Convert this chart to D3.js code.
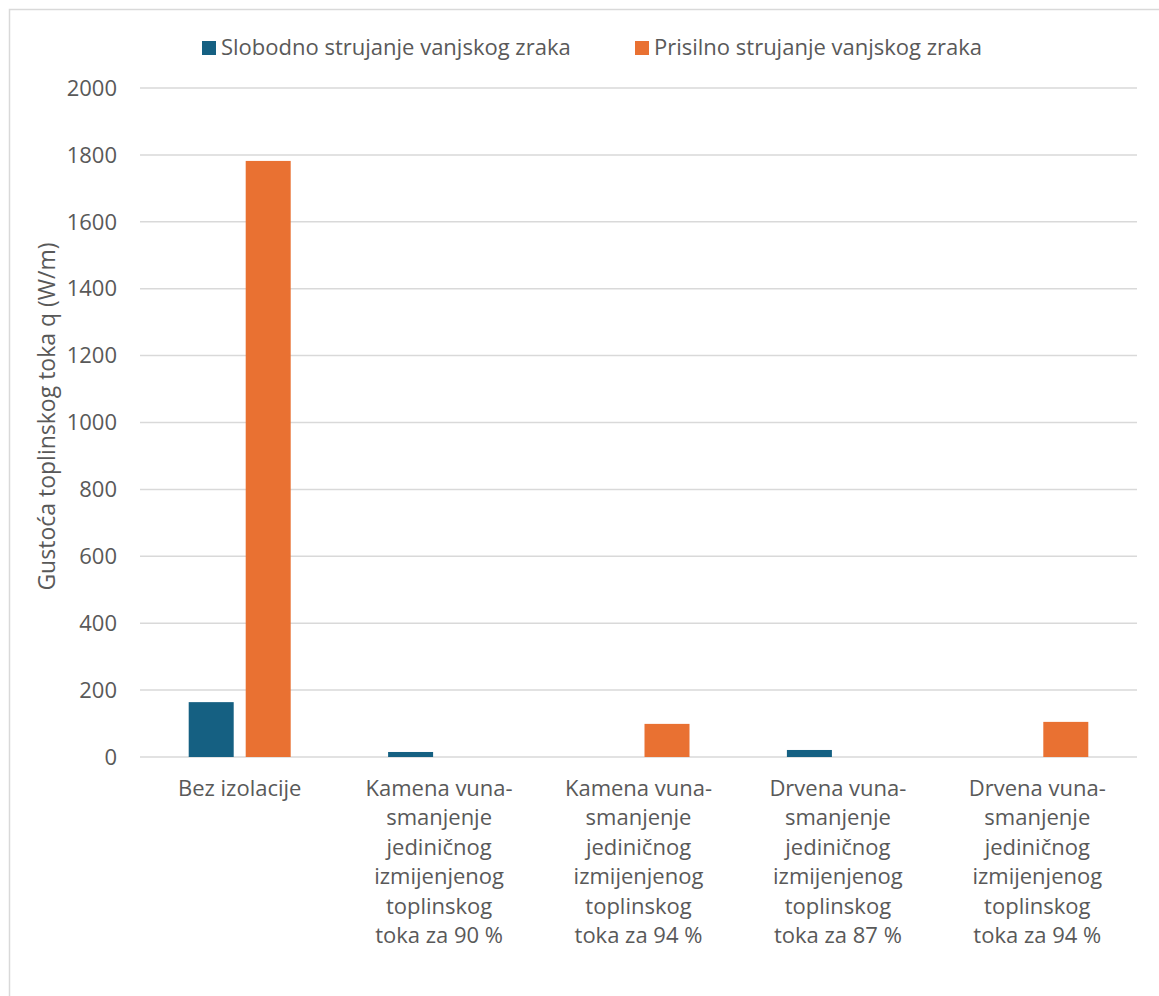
<!DOCTYPE html>
<html>
<head>
<meta charset="utf-8">
<script src="https://cdn.jsdelivr.net/npm/d3@7"></script>
<style>
  body { margin: 0; background: #fff; }
  svg { display: block; }
  text { font-family: "Open Sans", sans-serif; fill: #595959; }
</style>
</head>
<body>
<svg width="1159" height="996"></svg>
<script>
const categories = [
  ["Bez izolacije"],
  ["Kamena vuna-", "smanjenje", "jediničnog", "izmijenjenog", "toplinskog", "toka za 90 %"],
  ["Kamena vuna-", "smanjenje", "jediničnog", "izmijenjenog", "toplinskog", "toka za 94 %"],
  ["Drvena vuna-", "smanjenje", "jediničnog", "izmijenjenog", "toplinskog", "toka za 87 %"],
  ["Drvena vuna-", "smanjenje", "jediničnog", "izmijenjenog", "toplinskog", "toka za 94 %"]
];
const seriesNames = ["Slobodno strujanje vanjskog zraka", "Prisilno strujanje vanjskog zraka"];
const slobodno = [164, 15, 0, 21, 0];
const prisilno = [1782, 0, 99, 0, 105];
const yTicks = [0, 200, 400, 600, 800, 1000, 1200, 1400, 1600, 1800, 2000];
const colors = ["#156082", "#E97132"];

const svg = d3.select("svg");
const plotLeft = 140, plotRight = 1137, plotTop = 88, plotBottom = 757;

// chart frame
svg.append("rect")
  .attr("x", 9.5).attr("y", 9.5)
  .attr("width", 1200).attr("height", 1100)
  .attr("fill", "none").attr("stroke", "#D9D9D9").attr("stroke-width", 1.5);

const x = d3.scaleBand().domain(d3.range(categories.length)).range([plotLeft, plotRight]);
const y = d3.scaleLinear().domain([0, 2000]).range([plotBottom, plotTop]);
const barW = 45, gap = 12;

// gridlines
svg.append("g")
  .selectAll("line")
  .data(yTicks)
  .join("line")
  .attr("x1", plotLeft).attr("x2", plotRight)
  .attr("y1", d => y(d)).attr("y2", d => y(d))
  .attr("stroke", "#D9D9D9").attr("stroke-width", 1.5);

// y tick labels
svg.append("g")
  .selectAll("text")
  .data(yTicks)
  .join("text")
  .attr("x", 117)
  .attr("y", d => y(d))
  .attr("dy", "0.35em")
  .attr("text-anchor", "end")
  .style("font-size", "22px")
  .text(d => d);

// bars
[slobodno, prisilno].forEach((vals, si) => {
  svg.append("g")
    .selectAll("rect")
    .data(vals)
    .join("rect")
    .attr("x", (d, i) => x(i) + x.bandwidth() / 2 + (si === 0 ? -gap / 2 - barW : gap / 2))
    .attr("y", d => y(d))
    .attr("width", barW)
    .attr("height", d => plotBottom - y(d))
    .attr("fill", colors[si]);
});

// category labels
const cat = svg.append("g")
  .selectAll("text")
  .data(categories)
  .join("text")
  .attr("text-anchor", "middle")
  .style("font-size", "22px");
cat.each(function (lines, i) {
  d3.select(this).selectAll("tspan")
    .data(lines)
    .join("tspan")
    .attr("x", x(i) + x.bandwidth() / 2)
    .attr("y", (d, j) => 796 + j * 29.4)
    .text(d => d);
});

// axis title
svg.append("text")
  .attr("transform", `translate(55,${(plotTop + plotBottom) / 2 - 6}) rotate(-90)`)
  .attr("text-anchor", "middle")
  .style("font-size", "23px")
  .text("Gustoća toplinskog toka q (W/m)");

// legend
const legendX = [202, 635];
seriesNames.forEach((name, i) => {
  svg.append("rect")
    .attr("x", legendX[i]).attr("y", 41)
    .attr("width", 14).attr("height", 14)
    .attr("fill", colors[i]);
  svg.append("text")
    .attr("x", legendX[i] + 19).attr("y", 55)
    .style("font-size", "22px")
    .text(name);
});
</script>
</body>
</html>
